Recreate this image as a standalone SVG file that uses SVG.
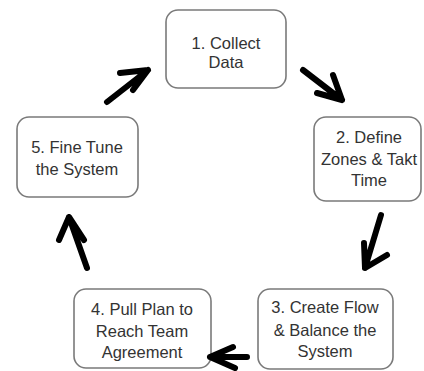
<svg xmlns="http://www.w3.org/2000/svg" width="424" height="371" viewBox="0 0 424 371">
<style>
.box{fill:#fff;stroke:#7a7a7a;stroke-width:1.6}
.t{font-family:"Liberation Sans",Arial,sans-serif;font-size:16.5px;fill:#333;text-anchor:middle}
.arr{fill:none;stroke:#000;stroke-width:6;stroke-linecap:round;stroke-linejoin:round}
</style>
<rect width="424" height="371" fill="#fff"/>
<g id="n1"><rect class="box" x="166" y="10" width="120" height="78" rx="12"/>
<text class="t" x="226" y="49">1. Collect</text><text class="t" x="226" y="68">Data</text></g>
<g id="n2"><rect class="box" x="314" y="117" width="107" height="84" rx="12"/>
<text class="t" x="369" y="143">2. Define</text><text class="t" x="369" y="165">Zones &amp; Takt</text><text class="t" x="369" y="186">Time</text></g>
<g id="n3"><rect class="box" x="258" y="289" width="135" height="80" rx="12"/>
<text class="t" x="325" y="313">3. Create Flow</text><text class="t" x="325" y="336">&amp; Balance the</text><text class="t" x="325" y="357">System</text></g>
<g id="n4"><rect class="box" x="74" y="289" width="137" height="79" rx="12"/>
<text class="t" x="142" y="315">4. Pull Plan to</text><text class="t" x="142" y="337">Reach Team</text><text class="t" x="142" y="358">Agreement</text></g>
<g id="n5"><rect class="box" x="17" y="117" width="121" height="80" rx="12"/>
<text class="t" x="77" y="153">5. Fine Tune</text><text class="t" x="77" y="175">the System</text></g>
<g id="connectors">
<path class="arr" d="M303 70 L342 100 M333 75 L342 100 L317 93"/>
<path class="arr" d="M381 215 L365 268 M364 243 L365 268 L387 255"/>
<path class="arr" d="M247 357 L210 357 M233 347 L210 357 L235 368"/>
<path class="arr" d="M87 268 L69 217 M59 240 L69 217 L84 240"/>
<path class="arr" d="M107 102 L148 70 M120 73 L148 70 L133 90"/>
</g>
</svg>
